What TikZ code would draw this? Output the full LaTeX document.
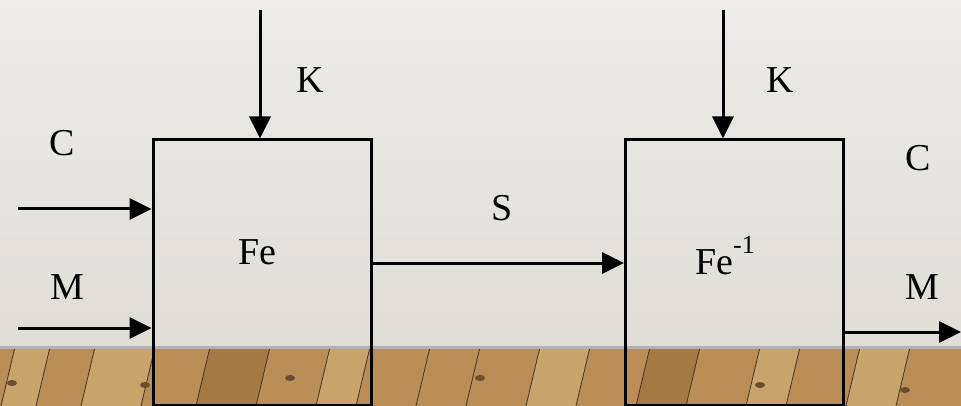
\documentclass[tikz,border=0pt]{standalone}
\usepackage{fontspec}
\setmainfont{Liberation Serif}
\usetikzlibrary{arrows.meta}
\definecolor{wallTop}{HTML}{EDEBE7}
\definecolor{wallBot}{HTML}{E0DDD7}
\definecolor{woodA}{HTML}{B98D55}
\definecolor{woodB}{HTML}{C9A26C}
\definecolor{woodC}{HTML}{A57944}
\definecolor{plankLine}{HTML}{4A3320}
\tikzset{
  blk/.style={draw=black, line width=3pt, minimum width=218pt, minimum height=265pt, inner sep=0pt},
  flow/.style={draw=black, line width=3pt, -{Triangle[length=22pt,width=21pt]}},
  lbl/.style={font=\fontsize{38}{40}\selectfont, inner sep=0pt}
}
\begin{document}
\begin{tikzpicture}[x=1pt,y=-1pt]
\useasboundingbox (0,0) rectangle (961,406);
% wall
\shade[top color=wallTop, bottom color=wallBot] (0,0) rectangle (961,347);
% floor
\fill[woodA] (0,347) rectangle (961,406);
\foreach \xa/\xb/\c in {15/50/woodB, 95/155/woodB, 210/270/woodC, 330/370/woodB, 430/480/woodA, 540/590/woodB, 650/700/woodC, 760/800/woodB, 860/910/woodB}{
  \fill[\c] (\xa,347) -- (\xb,347) -- (\xb-14,406) -- (\xa-14,406) -- cycle;
}
\foreach \x in {15,50,95,155,210,270,330,370,430,480,540,590,650,700,760,800,860,910}{
  \draw[plankLine, line width=0.8pt] (\x,347) -- (\x-14,406);
}
\foreach \p in {(12,383),(145,385),(290,378),(480,378),(760,385),(905,390)}{
  \fill[plankLine!70!woodA] \p ellipse (5pt and 3pt);
}
\fill[black!30] (0,346) rectangle (961,349);
% boxes
\node[blk] (fe) at (262,272.5) {};
\node[blk] (fei) at (734.5,272.5) {};
\node[lbl] (tfe) at (257,252) {Fe};
\node[lbl] (tfei) at (725,256) {Fe\raisebox{0.55em}{\fontsize{26}{28}\selectfont -1}};
% top K arrows
\coordinate (k1) at (260,10);
\coordinate (k2) at (723,10);
\draw[flow] (k1) -- (k1 |- fe.north);
\draw[flow] (k2) -- (k2 |- fei.north);
\node[lbl] (lk1) at (310,80) {K};
\node[lbl] (lk2) at (780,80) {K};
% inputs
\coordinate (cin) at (18,209);
\coordinate (min) at (18,328);
\draw[flow] (cin) -- (fe.west |- cin);
\draw[flow] (min) -- (fe.west |- min);
\node[lbl] (lc1) at (62,143) {C};
\node[lbl] (lm1) at (67,287) {M};
% S
\coordinate (sout) at (fe.east |- 0,263);
\draw[flow] (sout) -- (fei.west |- sout);
\node[lbl] (ls) at (502,208) {S};
% outputs
\coordinate (mout) at (961,332);
\draw[flow] (fei.east |- mout) -- (mout);
\node[lbl] (lc2) at (918,158) {C};
\node[lbl] (lm2) at (922,287) {M};
\end{tikzpicture}
\end{document}
